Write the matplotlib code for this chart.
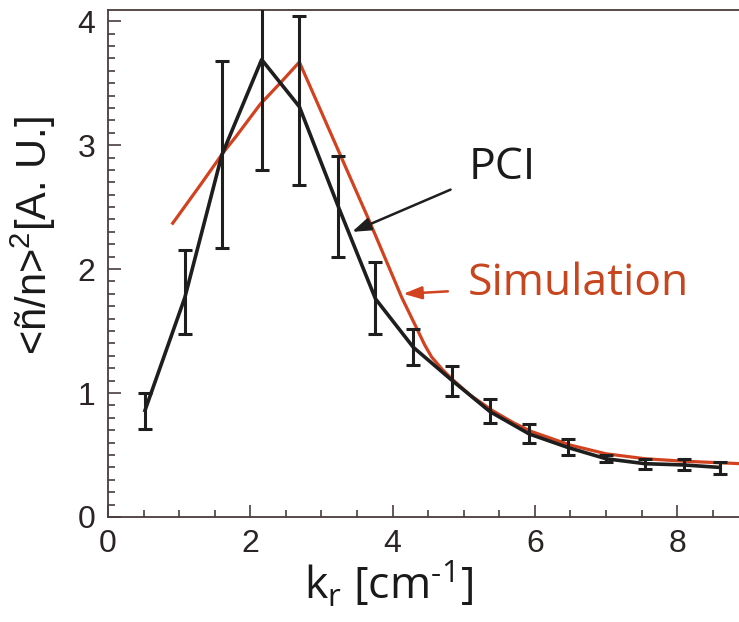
import matplotlib
matplotlib.use("Agg")
import matplotlib.pyplot as plt
from matplotlib.ticker import MultipleLocator

plt.rcParams['mathtext.fontset'] = 'custom'
plt.rcParams['mathtext.rm'] = 'Open Sans'
plt.rcParams['mathtext.it'] = 'Open Sans'

# PCI measurement
kr = [0.52, 1.08, 1.60, 2.16, 2.69, 3.24, 3.76, 4.29, 4.84, 5.37, 5.92, 6.47, 7.00, 7.55, 8.09, 8.60]
pci = [0.86, 1.77, 2.92, 3.69, 3.31, 2.50, 1.76, 1.37, 1.10, 0.85, 0.67, 0.56, 0.47, 0.43, 0.42, 0.40]
pci_lo = [0.71, 1.48, 2.17, 2.80, 2.68, 2.10, 1.48, 1.23, 0.98, 0.76, 0.60, 0.50, 0.44, 0.39, 0.38, 0.35]
pci_hi = [1.00, 2.15, 3.68, 4.20, 4.04, 2.91, 2.06, 1.52, 1.22, 0.95, 0.75, 0.63, 0.50, 0.47, 0.47, 0.44]

# simulation curve
sim_k = [0.91, 1.30, 1.62, 1.80, 2.14, 2.42, 2.69, 3.68, 4.13, 4.35, 4.45, 4.55, 4.70, 4.84, 5.10, 5.40,
         5.70, 5.95, 6.50, 7.00, 7.55, 8.10, 8.90]
sim_v = [2.37, 2.68, 2.94, 3.07, 3.33, 3.50, 3.67, 2.38, 1.77, 1.51, 1.39, 1.29, 1.19, 1.11, 0.98, 0.86,
         0.76, 0.69, 0.58, 0.51, 0.47, 0.45, 0.43]

red = '#d3421f'
dark = '#1e1e1e'
spine = '#4a3c3c'

fig = plt.figure(figsize=(7.39, 6.22), dpi=100)
ax = fig.add_axes([108 / 739, 105 / 622, 1 - 108 / 739, 507 / 622])

ax.plot(sim_k, sim_v, color=red, lw=2.3, zorder=2)
yerr = [[p - lo for p, lo in zip(pci, pci_lo)], [hi - p for p, hi in zip(pci, pci_hi)]]
ax.errorbar(kr, pci, yerr=yerr, color=dark, lw=2.6, elinewidth=2.2, capsize=5, capthick=2.2, zorder=3)

ax.set_xlim(0, 8.87)
ax.set_ylim(0, 4.09)
ax.xaxis.set_major_locator(MultipleLocator(2))
ax.xaxis.set_minor_locator(MultipleLocator(0.5))
ax.yaxis.set_major_locator(MultipleLocator(1))
ax.yaxis.set_minor_locator(MultipleLocator(0.1))
ax.tick_params(which='both', direction='in', color=spine, width=1.2, top=False, right=False)
ax.tick_params(which='major', length=9, labelsize=23, pad=9, labelcolor='#2a2424')
ax.tick_params(which='minor', length=5)
for lab in ax.get_xticklabels() + ax.get_yticklabels():
    lab.set_fontfamily('Liberation Sans')

for s in ['left', 'bottom', 'top']:
    ax.spines[s].set_color(spine)
    ax.spines[s].set_linewidth(1.3)
ax.spines['right'].set_visible(False)

ax.set_xlabel(r'k$_\mathregular{r}$ [cm$^\mathregular{‐1}$]', fontsize=32, family='Open Sans', color='#1a1a1a')
ax.xaxis.set_label_coords(0.444, -0.085)
ax.set_ylabel('<ñ/n>' + r'$^\mathregular{2}$' + '[A. U.]', fontsize=30, family='Liberation Sans', color='#1a1a1a')
ax.yaxis.set_label_coords(-0.08, 0.556)

ax.annotate('PCI', xy=(3.43, 2.30), xytext=(5.07, 2.82), fontsize=32, family='Open Sans', color='#1a1a1a',
            va='center', ha='left',
            arrowprops=dict(arrowstyle='-|>,head_length=0.35,head_width=0.12', color=dark, lw=1.8,
                            shrinkA=12, shrinkB=0))
ax.annotate('Simulation', xy=(4.15, 1.80), xytext=(5.05, 1.88), fontsize=32, family='Open Sans', color='#c8461f',
            va='center', ha='left',
            arrowprops=dict(arrowstyle='-|>,head_length=0.35,head_width=0.12', color=red, lw=1.8,
                            shrinkA=12, shrinkB=0))

fig.savefig('out.png', dpi=100)
